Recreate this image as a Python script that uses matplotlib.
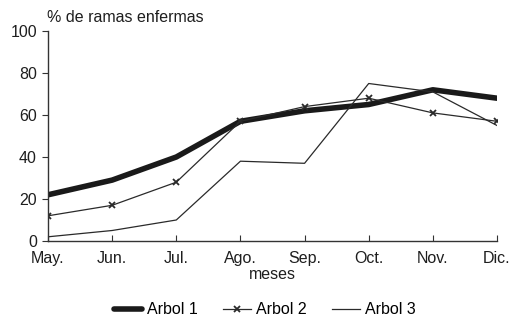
import matplotlib
matplotlib.use("Agg")
import matplotlib.pyplot as plt

months = ["May.", "Jun.", "Jul.", "Ago.", "Sep.", "Oct.", "Nov.", "Dic."]
arbol1 = [22, 29, 40, 57, 62, 65, 72, 68]
arbol2 = [12, 17, 28, 57, 64, 68, 61, 57]
arbol3 = [2, 5, 10, 38, 37, 75, 71, 55]
series_names = ["Arbol 1", "Arbol 2", "Arbol 3"]
yticks = [0, 20, 40, 60, 80, 100]

plt.rcParams['font.family'] = ['Liberation Sans', 'DejaVu Sans']
FS = 11.5
TXT = '#1e1e1e'

fig = plt.figure(figsize=(5.11, 3.17), dpi=100)
ax = fig.add_axes([48/511, 1-241/317, (497-48)/511, (241-31)/317])
x = list(range(len(months)))
ax.plot(x, arbol1, color='#1a1a1a', lw=4.0, solid_capstyle='round', label=series_names[0])
ax.plot(x, arbol2, color='#2a2a2a', lw=0.9, marker='x', ms=5, mew=1.3, label=series_names[1])
ax.plot(x, arbol3, color='#2a2a2a', lw=0.9, label=series_names[2])

ax.set_xlim(0, len(months)-1)
ax.set_ylim(0, 100)
ax.set_xticks(x)
ax.set_xticklabels(months, fontsize=FS)
ax.set_yticks(yticks)
ax.set_yticklabels([str(v) for v in yticks], fontsize=FS)
for s in ['top', 'right']:
    ax.spines[s].set_visible(False)
for s in ['left', 'bottom']:
    ax.spines[s].set_color('#333333')
    ax.spines[s].set_linewidth(1.0)
ax.tick_params(axis='x', direction='in', length=4, pad=7, colors='#333333', labelcolor=TXT)
ax.tick_params(axis='y', direction='out', length=4, pad=4, colors='#333333', labelcolor=TXT)
ax.set_xlabel("meses", fontsize=FS, color=TXT, labelpad=1)
fig.text(47/511, 1-17/317, "% de ramas enfermas", fontsize=FS, color=TXT, va='center', ha='left')
fig.legend(loc='center', bbox_to_anchor=(265/511, 1-310/317), ncol=3, frameon=False,
           fontsize=FS, handlelength=1.75, columnspacing=1.6, handletextpad=0.3,
           borderpad=0, borderaxespad=0)
fig.savefig("out.png", dpi=100, facecolor='white')
